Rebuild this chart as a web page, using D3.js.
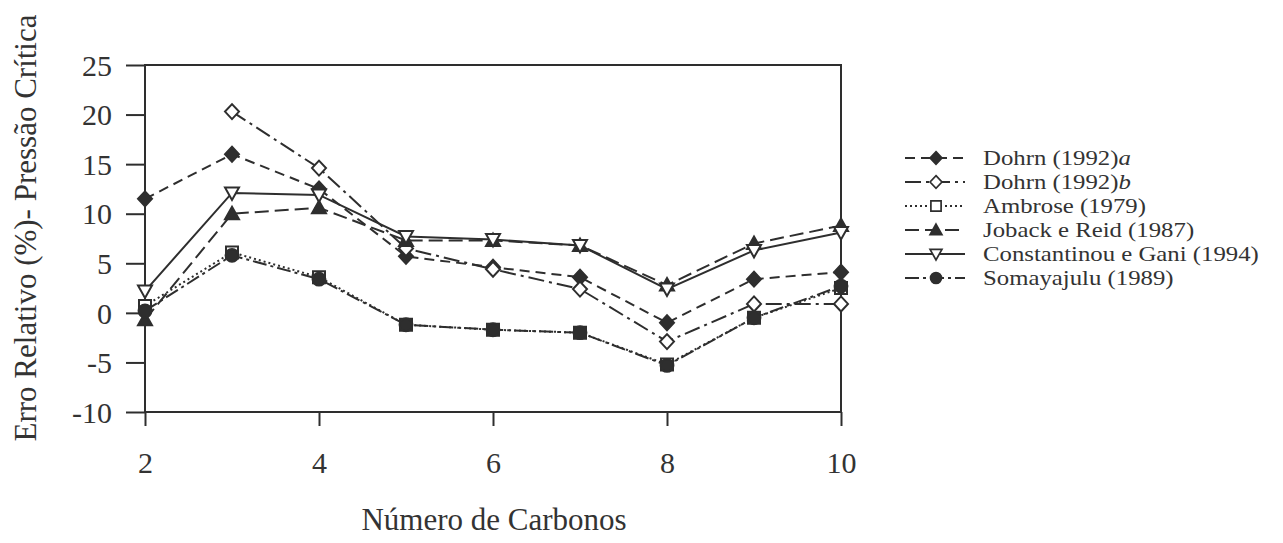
<!DOCTYPE html>
<html>
<head>
<meta charset="utf-8">
<script src="https://cdn.jsdelivr.net/npm/d3@7"></script>
<style>
  html, body { margin: 0; padding: 0; background: #ffffff; }
  svg { display: block; }
  text { font-family: "Liberation Serif", "Times New Roman", serif; fill: #333; }
</style>
</head>
<body>
<svg id="chart" width="1283" height="543"></svg>
<script>
// Carbon number on the x axis
const carbons = [2, 3, 4, 5, 6, 7, 8, 9, 10];

// Relative error (%) in critical pressure, one array per method
const dohrnA       = [11.5, 16.0, 12.5, 5.7, 4.6, 3.6, -1.0, 3.4, 4.1];
const dohrnB       = [null, 20.3, 14.6, 6.5, 4.4, 2.4, -2.9, 0.9, 0.9];
const ambrose      = [0.7, 6.1, 3.6, -1.2, -1.7, -2.0, -5.2, -0.5, 2.5];
const jobackReid   = [-0.7, 10.0, 10.6, 7.3, 7.3, 6.8, 2.8, 7.0, 8.8];
const constantinou = [2.2, 12.1, 11.9, 7.7, 7.4, 6.8, 2.4, 6.3, 8.1];
const somayajulu   = [0.2, 5.8, 3.4, -1.2, -1.7, -2.0, -5.3, -0.5, 2.7];

const seriesNames = [
  "Dohrn (1992)a", "Dohrn (1992)b", "Ambrose (1979)",
  "Joback e Reid (1987)", "Constantinou e Gani (1994)", "Somayajulu (1989)"
];

const xTicks = [2, 4, 6, 8, 10];
const yTicks = [25, 20, 15, 10, 5, 0, -5, -10];

const ink = "#2e2e2e";

// Marker shapes, centred on the origin
const shapes = {
  diamond: "M0,-7.5L7,0L0,7.5L-7,0Z",
  square: "M-6,-6H6V6H-6Z",
  triangle: "M0,-7L7,5.5L-7,5.5Z",
  triangleDown: "M-7,-5.5H7L0,7Z",
  circle: d3.symbol(d3.symbolCircle, 130)()
};

const series = [
  { name: seriesNames[0], values: dohrnA,       dash: "10,6",        shape: "diamond",      fill: ink },
  { name: seriesNames[1], values: dohrnB,       dash: "16,5,3,5",    shape: "diamond",      fill: "#fff" },
  { name: seriesNames[2], values: ambrose,      dash: "2,3",         shape: "square",       fill: "#fff" },
  { name: seriesNames[3], values: jobackReid,   dash: "14,6",        shape: "triangle",     fill: ink },
  { name: seriesNames[4], values: constantinou, dash: null,          shape: "triangleDown", fill: "#fff" },
  { name: seriesNames[5], values: somayajulu,   dash: "14,4,3,4",    shape: "circle",       fill: ink }
];

const svg = d3.select("#chart");
const plotLeft = 145, plotRight = 841, plotTop = 65, plotBottom = 412;

const x = d3.scaleLinear().domain([2, 10]).range([plotLeft, plotRight]);
const y = d3.scaleLinear().domain([-10, 25]).range([plotBottom, plotTop]);

// Plot frame
svg.append("rect")
  .attr("x", plotLeft).attr("y", plotTop)
  .attr("width", plotRight - plotLeft).attr("height", plotBottom - plotTop)
  .attr("fill", "none").attr("stroke", ink).attr("stroke-width", 2);

// Axes (plain hyphen for negative numbers)
const plainNumber = d => String(d);
const yAxis = svg.append("g")
  .attr("transform", `translate(${plotLeft},0)`)
  .call(d3.axisLeft(y).tickValues(yTicks).tickSize(19).tickPadding(14).tickFormat(plainNumber));
const xAxis = svg.append("g")
  .attr("transform", `translate(0,${plotBottom})`)
  .call(d3.axisBottom(x).tickValues(xTicks).tickSize(14).tickPadding(26).tickFormat(plainNumber));

[yAxis, xAxis].forEach(g => {
  g.select(".domain").remove();
  g.selectAll("line").attr("stroke", ink).attr("stroke-width", 2);
  g.selectAll("text")
    .attr("font-family", "'Liberation Serif', serif")
    .attr("font-size", 30)
    .attr("fill", ink);
});
yAxis.selectAll("text").attr("dy", "0.34em");

// Axis titles
svg.append("text")
  .attr("x", (plotLeft + plotRight) / 2 + 1).attr("y", 530)
  .attr("text-anchor", "middle")
  .attr("font-size", 31)
  .text("Número de Carbonos");

svg.append("text")
  .attr("transform", "translate(36,228) rotate(-90)")
  .attr("text-anchor", "middle")
  .attr("font-size", 31)
  .text("Erro Relativo (%)- Pressão Crítica");

// Series lines
const line = d3.line()
  .defined(d => d.v !== null)
  .x(d => x(d.c))
  .y(d => y(d.v));

const plot = svg.append("g");
series.forEach(s => {
  const pts = carbons.map((c, i) => ({ c, v: s.values[i] }));
  plot.append("path")
    .datum(pts)
    .attr("d", line)
    .attr("fill", "none")
    .attr("stroke", ink)
    .attr("stroke-width", 2)
    .attr("stroke-dasharray", s.dash);
});

// Markers
series.forEach(s => {
  const pts = carbons.map((c, i) => ({ c, v: s.values[i] })).filter(d => d.v !== null);
  plot.selectAll(null)
    .data(pts)
    .join("path")
    .attr("d", shapes[s.shape])
    .attr("transform", d => `translate(${x(d.c)},${y(d.v)})`)
    .attr("fill", s.fill)
    .attr("stroke", ink)
    .attr("stroke-width", 2);
});

// Legend
const legend = svg.append("g").attr("transform", "translate(905,158)");
series.forEach((s, i) => {
  const row = legend.append("g").attr("transform", `translate(0,${i * 24})`);
  row.append("line")
    .attr("x1", 0).attr("x2", 60).attr("y1", 0).attr("y2", 0)
    .attr("stroke", ink).attr("stroke-width", 2)
    .attr("stroke-dasharray", s.dash);
  row.append("path")
    .attr("d", shapes[s.shape])
    .attr("transform", "translate(31,0) scale(0.85)")
    .attr("fill", s.fill)
    .attr("stroke", ink)
    .attr("stroke-width", 2);
  // Legend labels are set slightly condensed in height, wide in width
  const t = row.append("text")
    .attr("transform", "translate(78,0) scale(1.18,1)")
    .attr("dy", "0.34em")
    .attr("font-size", 21);
  if (s.name.endsWith("a") || s.name.endsWith("b")) {
    t.append("tspan").text(s.name.slice(0, -1));
    t.append("tspan").attr("font-style", "italic").text(s.name.slice(-1));
  } else {
    t.text(s.name);
  }
});
</script>
</body>
</html>
